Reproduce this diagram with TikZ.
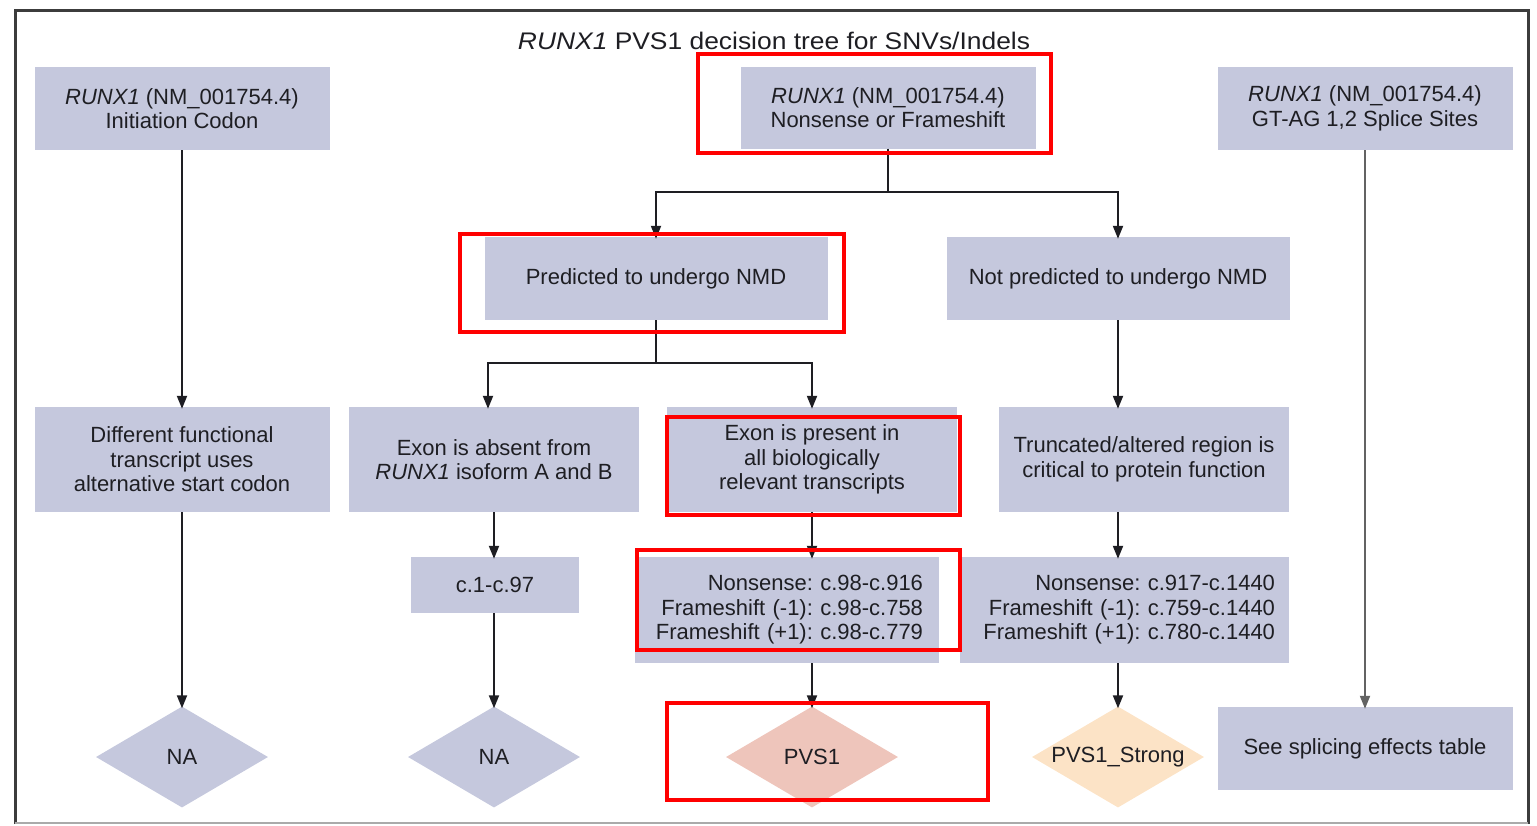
\documentclass[tikz,border=0pt]{standalone}
\usepackage{fontspec}
\setmainfont{Liberation Sans}
\newfontfamily\headfont[FakeStretch=1.1]{Liberation Sans}
\usetikzlibrary{shapes.geometric,arrows.meta}
\definecolor{boxfill}{RGB}{197,200,221}
\definecolor{pinkfill}{RGB}{238,197,187}
\definecolor{peachfill}{RGB}{252,227,198}
\definecolor{ink}{RGB}{30,30,35}
\definecolor{framedark}{RGB}{60,60,60}
\definecolor{framelight}{RGB}{170,170,170}
\tikzset{
  txt/.style={font=\fontsize{22}{24.5}\selectfont\frenchspacing, text=ink},
  card/.style={txt, rectangle, fill=boxfill, inner sep=0pt, align=center},
  gem/.style={txt, diamond, inner sep=0pt, minimum width=172, minimum height=101},
  hl/.style={draw=red, line width=4.5, inner sep=0pt, fill=none},
  arr/.style={line width=2, draw=ink, -{Triangle[length=13,width=10]}},
  wire/.style={line width=2, draw=ink},
}
\begin{document}
\begin{tikzpicture}[x=1pt,y=-1pt]
\useasboundingbox (0,0) rectangle (1537,825);
% outer frame
\draw[framedark, line width=3] (15,824) -- (15,10) -- (1528,10) -- (1528,824);
\draw[framelight, line width=2] (15,823) -- (1528,823);

% title
\node[text=ink, font=\headfont\fontsize{24}{26}\selectfont] (title) at (774,41) {\textit{RUNX1} PVS1 decision tree for SNVs/Indels};

% top row
\node[card, minimum width=295, minimum height=83] (init) at (182,108.5) {\textit{RUNX1} (NM\_001754.4)\\Initiation Codon};
\node[card, minimum width=295, minimum height=82] (nf) at (888,107.5) {\textit{RUNX1} (NM\_001754.4)\\Nonsense or Frameshift};
\node[card, minimum width=295, minimum height=83] (splice) at (1365,108.5) {\textit{RUNX1} (NM\_001754.4)\\GT-AG 1,2 Splice Sites};

% NMD row
\node[card, minimum width=343, minimum height=83] (nmd) at (656,278.5) {Predicted to undergo NMD};
\node[card, minimum width=343, minimum height=83] (nonmd) at (1118,278.5) {Not predicted to undergo NMD};

% third row
\node[card, minimum width=295, minimum height=105] (alt) at (182,459.5) {Different functional\\transcript uses\\alternative start codon};
\node[card, minimum width=290, minimum height=105] (absent) at (494,459.5) {Exon is absent from\\\textit{RUNX1} isoform A and B};
\node[card, minimum width=290, minimum height=105] (present) at (812,459.5) {Exon is present in\\all biologically\\relevant transcripts};
\node[card, minimum width=290, minimum height=105] (trunc) at (1144,459.5) {Truncated/altered region is\\critical to protein function};

% fourth row
\node[card, minimum width=168, minimum height=56] (early) at (495,585) {c.1-c.97};
\node[card, align=right, text width=272, inner xsep=16, minimum height=106] (rngA) at (787,610) {Nonsense: c.98-c.916\\Frameshift (-1): c.98-c.758\\Frameshift (+1): c.98-c.779};
\node[card, align=right, text width=301, inner xsep=14, minimum height=106] (rngB) at (1124.5,610) {Nonsense: c.917-c.1440\\Frameshift (-1): c.759-c.1440\\Frameshift (+1): c.780-c.1440};

% outcomes
\node[gem, fill=boxfill] (na1) at (182,757) {\makebox[0pt]{NA}};
\node[gem, fill=boxfill] (na2) at (494,757) {\makebox[0pt]{NA}};
\node[gem, fill=pinkfill] (pvs) at (812,757) {\makebox[0pt]{PVS1}};
\node[gem, fill=peachfill] (strong) at (1118,757) {\makebox[0pt]{PVS1\_Strong}};
\node[card, minimum width=295, minimum height=83] (table) at (1365,748.5) {See splicing effects table};

% connectors
\coordinate (s1) at (888,192);
\coordinate (s2) at (656,363);
\draw[wire] (nf.south) -- (s1);
\draw[arr] (s1) -| ([yshift=-2]nmd.north);
\draw[arr] (s1) -| ([yshift=-2]nonmd.north);
\draw[wire] (nmd.south) -- (s2);
\draw[arr] (s2) -| ([yshift=-2]absent.north -| 488,0);
\draw[arr] (s2) -| ([yshift=-2]present.north);
\draw[arr] (init.south) -- ([yshift=-2]alt.north);
\draw[arr] (alt.south) -- ([yshift=-2]na1.north);
\draw[arr] (absent.south) -- ([yshift=-2]absent.south |- early.north);
\draw[arr] (early.south -| absent.south) -- ([yshift=-2]na2.north);
\draw[arr] (present.south) -- ([yshift=-2]present.south |- rngA.north);
\draw[arr] (pvs.north |- rngA.south) -- ([yshift=-2]pvs.north);
\draw[arr] (nonmd.south) -- ([yshift=-2]nonmd.south |- trunc.north);
\draw[arr] (strong.north |- trunc.south) -- ([yshift=-2]strong.north |- rngB.north);
\draw[arr] (strong.north |- rngB.south) -- ([yshift=-2]strong.north);
\draw[arr, draw=framedark!80] (splice.south) -- ([yshift=-2]table.north);

% highlight frames
\node[hl, minimum width=353, minimum height=99] (h1) at (874.5,103.5) {};
\node[hl, minimum width=384, minimum height=98] (h2) at (652,283) {};
\node[hl, minimum width=293, minimum height=98] (h3) at (813.5,466) {};
\node[hl, minimum width=323, minimum height=100] (h4) at (798.5,600) {};
\node[hl, minimum width=321, minimum height=97] (h5) at (827.5,751.5) {};
\end{tikzpicture}
\end{document}
